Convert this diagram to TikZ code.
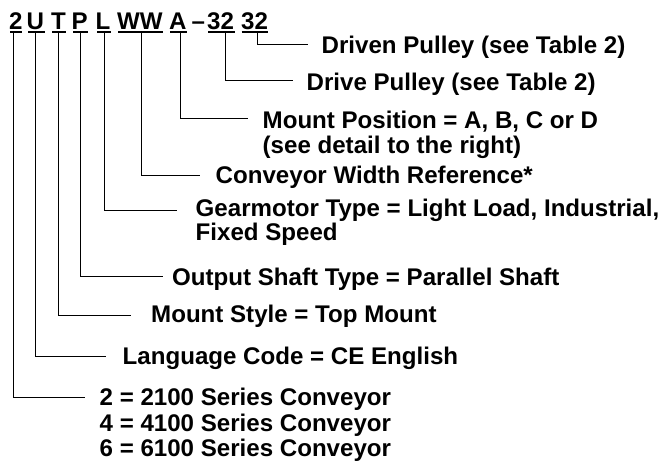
\documentclass[tikz,border=0pt]{standalone}
\usepackage{fontspec}
\setmainfont{Liberation Sans}
\begin{document}
\begin{tikzpicture}[x=1pt,y=-1pt,
  txt/.style={anchor=base west,inner sep=0pt,font=\fontsize{24.1}{25}\selectfont\bfseries},
  uline/.style={line width=1.8pt},
  conn/.style={line width=1pt}]
\useasboundingbox (0,0) rectangle (659,461);
% code letters
\node[txt] (c2) at (9,29.5) {2};
\node[txt] (cU) at (26.5,29.5) {U};
\node[txt] (cT) at (51,29.5) {T};
\node[txt] (cP) at (71.5,29.5) {P};
\node[txt] (cL) at (95.5,29.5) {L};
\node[txt] (cW) at (117,29.5) {WW};
\node[txt] (cA) at (169,29.5) {A};
\node[txt] (cdash) at (191.5,29.5) {–};
\node[txt] (cD1) at (207,29.5) {32};
\node[txt] (cD2) at (241,29.5) {32};
% underlines
\draw[uline] (10,31.7) -- (21.7,31.7);
\draw[uline] (28,31.7) -- (45,31.7);
\draw[uline] (52,31.7) -- (66,31.7);
\draw[uline] (73,31.7) -- (88,31.7);
\draw[uline] (97,31.7) -- (111,31.7);
\draw[uline] (118,31.7) -- (163,31.7);
\draw[uline] (170,31.7) -- (187,31.7);
\draw[uline] (208.3,31.7) -- (235,31.7);
\draw[uline] (241.7,31.7) -- (268.3,31.7);
% connector start points
\coordinate (s2) at (13.3,31.7);
\coordinate (sU) at (35.7,31.7);
\coordinate (sT) at (58.3,31.7);
\coordinate (sP) at (80.7,31.7);
\coordinate (sL) at (104,31.7);
\coordinate (sW) at (141.7,31.7);
\coordinate (sA) at (180,31.7);
\coordinate (sD1) at (225.7,31.7);
\coordinate (sD2) at (257.7,31.7);
% connector end points
\coordinate (e2) at (85,397);
\coordinate (eU) at (106,356);
\coordinate (eT) at (131,315);
\coordinate (eP) at (163,276.7);
\coordinate (eL) at (177,210);
\coordinate (eW) at (200,175.5);
\coordinate (eA) at (248,118.3);
\coordinate (eD1) at (293.3,80.5);
\coordinate (eD2) at (308.3,44.3);
% labels
\node[txt] (lD2) at (321.5,53.3) {Driven Pulley (see Table 2)};
\node[txt] (lD1) at (306.5,90) {Drive Pulley (see Table 2)};
\node[txt] (lA1) at (262.5,128) {Mount Position = A, B, C or D};
\node[txt] (lA2) at (262.5,153) {(see detail to the right)};
\node[txt] (lW) at (215.5,183.3) {Conveyor Width Reference*};
\node[txt] (lL1) at (195.5,216) {Gearmotor Type = Light Load, Industrial,};
\node[txt] (lL2) at (195.5,240.5) {Fixed Speed};
\node[txt] (lP) at (172,285) {Output Shaft Type = Parallel Shaft};
\node[txt] (lT) at (151,322) {Mount Style = Top Mount};
\node[txt] (lU) at (122.5,364) {Language Code = CE English};
\node[txt] (l2a) at (99.5,405.5) {2 = 2100 Series Conveyor};
\node[txt] (l2b) at (99.5,431) {4 = 4100 Series Conveyor};
\node[txt] (l2c) at (99.5,456) {6 = 6100 Series Conveyor};
% connectors
\draw[conn] (s2) |- (e2);
\draw[conn] (sU) |- (eU);
\draw[conn] (sT) |- (eT);
\draw[conn] (sP) |- (eP);
\draw[conn] (sL) |- (eL);
\draw[conn] (sW) |- (eW);
\draw[conn] (sA) |- (eA);
\draw[conn] (sD1) |- (eD1);
\draw[conn] (sD2) |- (eD2);
\end{tikzpicture}
\end{document}
